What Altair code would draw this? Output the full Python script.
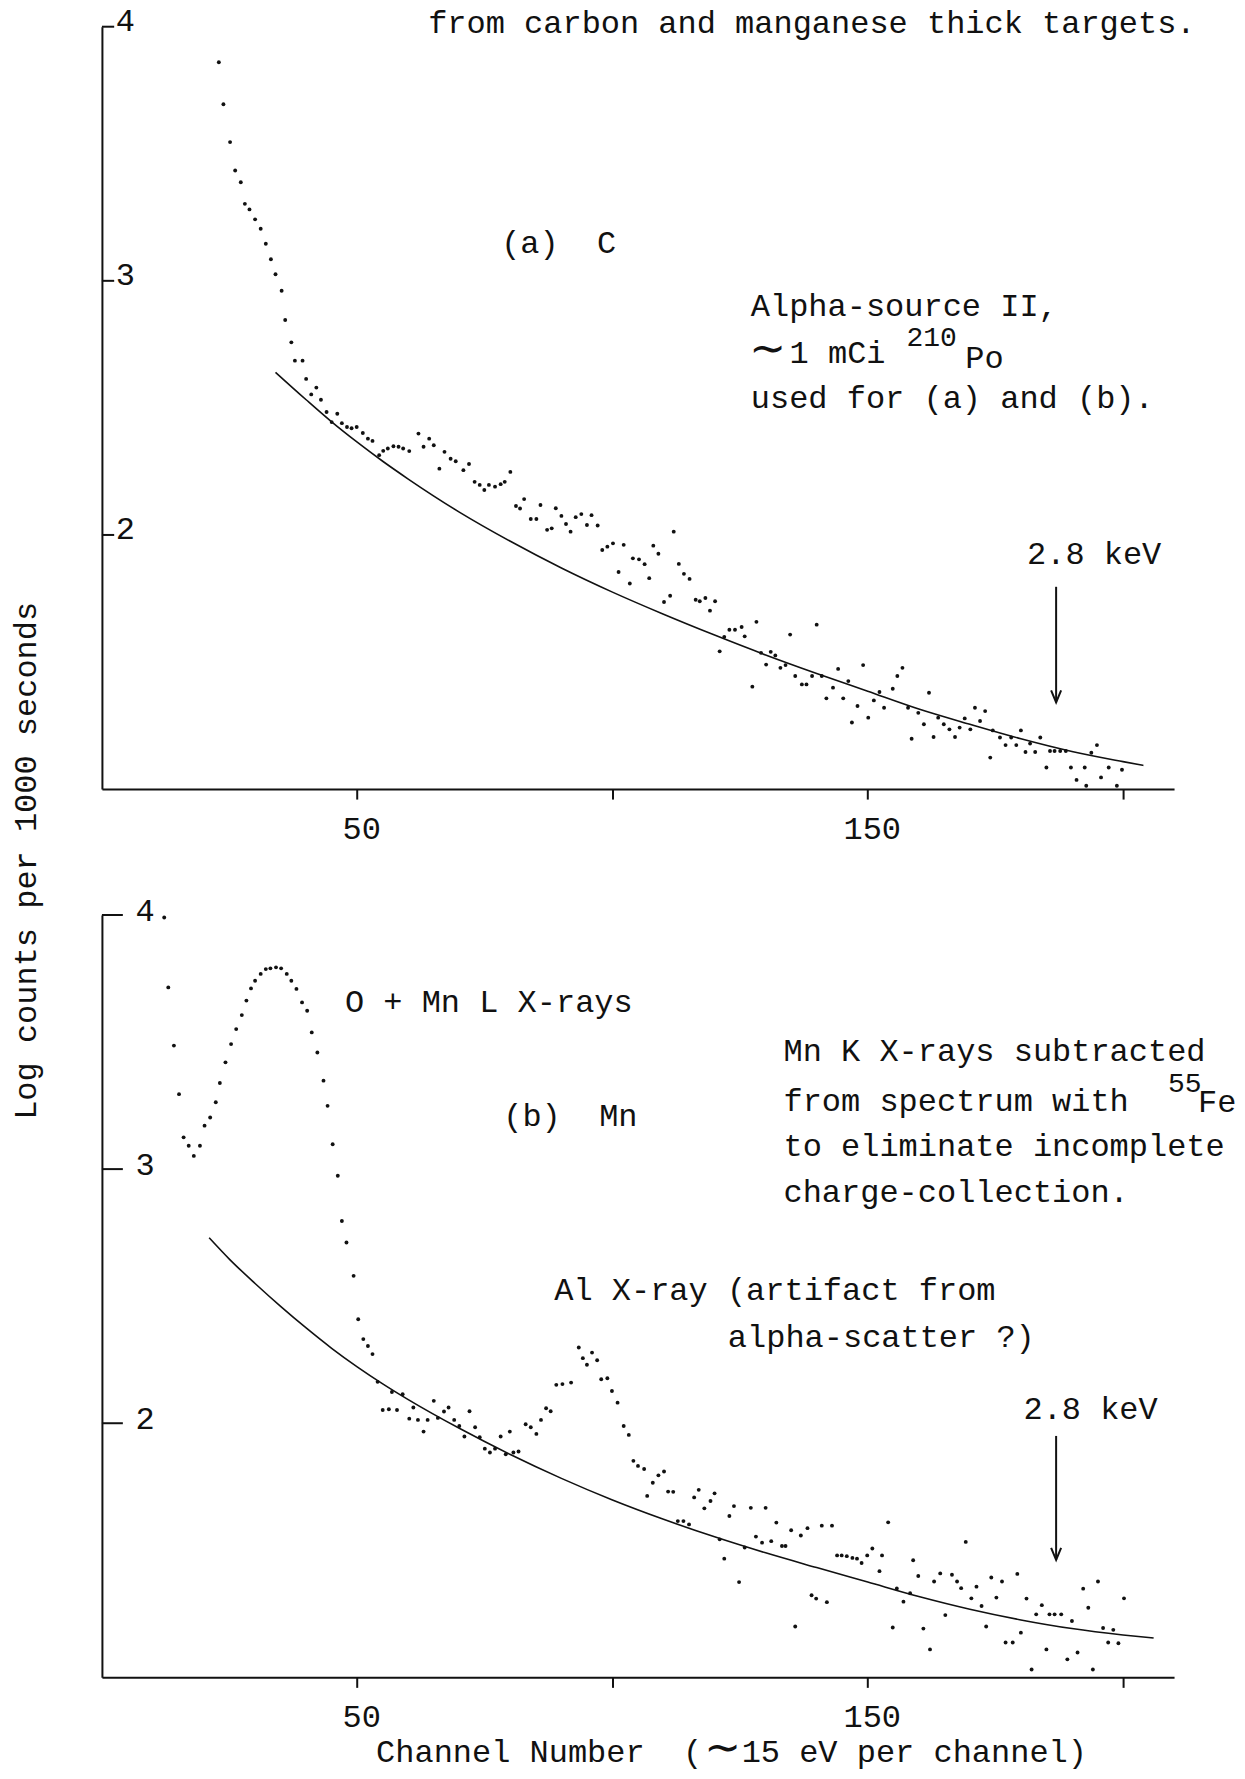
import altair as alt
import pandas as pd

FONT = "Liberation Mono"
FS = 32
INK = "#111111"

# ---------------- panel (a): carbon ----------------
TOP_CH = [22.9, 23.8, 25.1, 26.1, 27.2, 28.0, 28.9, 30.0, 31.1, 32.1, 33.1, 34.0, 35.2, 35.9, 37.1, 37.8,
          39.3, 40.0, 41.0, 42.0, 42.9, 44.0, 45.0, 46.1, 47.0, 48.0, 48.9, 49.9, 51.1, 52.1, 53.0, 54.3,
          55.1, 56.0, 57.1, 58.1, 59.0, 60.2, 62.0, 63.0, 64.1, 65.0, 66.1, 67.1, 68.3, 69.3, 70.8, 71.9,
          73.0, 74.0, 74.9, 75.8, 77.0, 78.1, 78.9, 80.0, 81.1, 81.9, 82.7, 84.0, 85.1, 85.9, 87.2, 88.1,
          88.9, 90.0, 90.9, 91.8, 92.8, 93.9, 95.0, 95.9, 97.1, 98.0, 99.0, 100.1, 101.2, 102.2, 103.4, 104.0,
          105.2, 106.3, 107.2, 108.0, 109.0, 110.1, 111.3, 112.0, 113.0, 114.0, 115.1, 116.3, 117.1, 118.2, 119.1, 120.1,
          121.0, 121.9, 122.9, 124.0, 125.3, 125.9, 127.4, 128.2, 129.1, 130.1, 131.0, 131.9, 132.9, 133.9, 134.8, 135.8,
          137.1, 138.0, 139.1, 140.0, 141.0, 141.9, 143.2, 144.2, 145.2, 146.2, 146.9, 148.0, 149.1, 150.1, 151.2, 152.3,
          153.2, 154.9, 155.8, 156.8, 157.9, 158.6, 159.9, 161.0, 162.0, 162.9, 163.8, 164.9, 166.0, 167.1, 168.0, 169.0,
          170.1, 171.0, 172.0, 173.0, 174.0, 174.5, 175.9, 177.0, 178.1, 179.1, 180.0, 180.9, 181.8, 182.8, 183.8, 185.0,
          185.7, 186.6, 187.7, 188.8, 189.8, 190.9, 192.5, 192.8, 193.8, 194.9, 195.7, 197.2, 198.8, 199.8]
TOP_VAL = [3.86, 3.695, 3.546, 3.434, 3.388, 3.303, 3.281, 3.242, 3.205, 3.146, 3.085, 3.026, 2.961, 2.846, 2.758, 2.686,
           2.686, 2.614, 2.553, 2.58, 2.532, 2.484, 2.444, 2.477, 2.44, 2.425, 2.42, 2.425, 2.401, 2.379, 2.37, 2.314,
           2.331, 2.34, 2.349, 2.347, 2.34, 2.33, 2.399, 2.347, 2.379, 2.353, 2.261, 2.327, 2.30, 2.29, 2.255, 2.279,
           2.209, 2.197, 2.177, 2.197, 2.19, 2.2, 2.209, 2.248, 2.114, 2.104, 2.141, 2.063, 2.063, 2.118, 2.02, 2.026,
           2.105, 2.075, 2.043, 2.013, 2.07, 2.082, 2.039, 2.078, 2.037, 1.941, 1.954, 1.967, 1.854, 1.961, 1.809, 1.908,
           1.904, 1.885, 1.83, 1.958, 1.926, 1.736, 1.761, 2.013, 1.886, 1.847, 1.827, 1.745, 1.739, 1.752, 1.702, 1.739,
           1.542, 1.599, 1.627, 1.627, 1.638, 1.601, 1.403, 1.658, 1.536, 1.49, 1.54, 1.526, 1.477, 1.488, 1.608, 1.445,
           1.412, 1.412, 1.445, 1.647, 1.445, 1.357, 1.399, 1.473, 1.357, 1.425, 1.262, 1.327, 1.488, 1.281, 1.349, 1.382,
           1.32, 1.395, 1.445, 1.477, 1.32, 1.198, 1.3, 1.255, 1.379, 1.205, 1.281, 1.255, 1.235, 1.205, 1.242, 1.278,
           1.235, 1.32, 1.268, 1.307, 1.124, 1.231, 1.203, 1.173, 1.203, 1.173, 1.231, 1.146, 1.179, 1.146, 1.203, 1.085,
           1.15, 1.15, 1.15, 1.15, 1.085, 1.036, 1.085, 1.013, 1.143, 1.173, 1.046, 1.085, 1.013, 1.076]
TOP_FIT_CH = [34, 40, 45, 50, 55, 60, 70, 80, 90, 100, 110, 120, 130, 140, 150, 160, 170, 180, 190, 200, 204]
TOP_FIT_VAL = [2.64, 2.532, 2.445, 2.365, 2.29, 2.22, 2.09, 1.975, 1.87, 1.775, 1.688, 1.606, 1.528, 1.455,
               1.385, 1.315, 1.255, 1.198, 1.148, 1.108, 1.093]

# ---------------- panel (b): manganese ----------------
BOT_CH = [12.2, 13.0, 14.1, 15.1, 16.0, 17.0, 18.0, 19.2, 20.1, 21.2, 22.3, 23.1, 24.2, 25.3, 26.3, 27.4,
          28.3, 29.2, 30.0, 31.1, 32.1, 33.0, 34.1, 35.1, 36.2, 37.1, 38.1, 39.2, 40.2, 41.1, 42.2, 43.4,
          44.2, 45.2, 46.2, 47.0, 47.9, 49.3, 50.2, 51.2, 52.1, 53.0, 54.0, 55.0, 56.2, 56.8, 57.8, 58.9,
          60.2, 61.0, 61.9, 63.0, 63.8, 65.0, 65.8, 67.0, 67.9, 69.0, 70.0, 71.0, 72.0, 73.1, 74.0, 75.0,
          76.0, 77.0, 78.1, 79.1, 79.9, 80.6, 81.6, 83.0, 84.0, 85.1, 86.0, 87.0, 87.9, 89.0, 90.2, 91.9,
          93.4, 94.2, 95.0, 96.0, 97.0, 97.8, 99.0, 99.9, 101.0, 102.2, 103.2, 104.1, 105.0, 106.2, 106.8, 107.9,
          109.0, 110.1, 110.9, 111.9, 112.8, 113.9, 115.0, 116.0, 116.9, 118.0, 119.2, 120.0, 121.0, 121.9, 122.9, 123.8,
          124.8, 125.9, 127.1, 128.1, 129.3, 130.0, 131.1, 132.1, 133.2, 133.9, 135.0, 135.8, 136.9, 138.2, 139.0, 139.9,
          141.0, 142.0, 143.0, 144.0, 144.9, 145.9, 147.0, 147.9, 148.8, 149.9, 150.9, 152.3, 152.8, 154.0, 154.9, 155.7,
          157.0, 158.3, 158.9, 159.9, 160.9, 162.2, 163.0, 164.2, 165.2, 166.5, 167.5, 168.3, 169.2, 170.3, 171.3, 172.3,
          173.2, 174.2, 175.2, 176.3, 177.0, 178.4, 179.3, 180.0, 181.1, 182.1, 183.0, 184.1, 185.0, 185.6, 186.6, 187.9,
          189.1, 190.0, 191.1, 192.2, 193.2, 194.1, 195.1, 196.1, 197.1, 198.1, 199.1, 200.2]
BOT_VAL = [3.99, 3.715, 3.486, 3.295, 3.125, 3.092, 3.052, 3.092, 3.171, 3.203, 3.263, 3.339, 3.42, 3.492, 3.551, 3.606,
           3.663, 3.711, 3.741, 3.768, 3.787, 3.79, 3.794, 3.79, 3.768, 3.741, 3.709, 3.656, 3.623, 3.538, 3.459, 3.348,
           3.249, 3.098, 2.974, 2.796, 2.711, 2.58, 2.409, 2.331, 2.304, 2.272, 2.163, 2.052, 2.055, 2.123, 2.052, 2.114,
           2.018, 2.062, 2.013, 1.967, 2.013, 2.088, 2.021, 2.046, 2.062, 2.013, 1.989, 1.948, 2.047, 1.984, 1.945, 1.90,
           1.885, 1.90, 1.948, 1.878, 1.967, 1.885, 1.889, 1.996, 1.984, 1.958, 2.013, 2.059, 2.047, 2.151, 2.154, 2.16,
           2.298, 2.256, 2.23, 2.278, 2.248, 2.173, 2.177, 2.127, 2.081, 1.989, 1.954, 1.852, 1.832, 1.82, 1.714, 1.766,
           1.795, 1.81, 1.731, 1.73, 1.615, 1.615, 1.602, 1.708, 1.738, 1.665, 1.694, 1.724, 1.543, 1.467, 1.635, 1.674,
           1.375, 1.511, 1.667, 1.554, 1.53, 1.667, 1.536, 1.609, 1.517, 1.517, 1.579, 1.20, 1.558, 1.587, 1.323, 1.31,
           1.597, 1.296, 1.597, 1.48, 1.48, 1.477, 1.47, 1.467, 1.45, 1.48, 1.507, 1.418, 1.48, 1.61, 1.196, 1.35,
           1.298, 1.331, 1.461, 1.399, 1.192, 1.11, 1.377, 1.409, 1.245, 1.404, 1.377, 1.351, 1.533, 1.311, 1.357, 1.281,
           1.20, 1.393, 1.314, 1.377, 1.137, 1.137, 1.407, 1.176, 1.31, 1.031, 1.248, 1.284, 1.11, 1.248, 1.248, 1.248,
           1.071, 1.222, 1.098, 1.349, 1.274, 1.031, 1.377, 1.194, 1.137, 1.187, 1.134, 1.311]
BOT_FIT_CH = [21, 25, 30, 35, 40, 45, 50, 55, 60, 70, 80, 90, 100, 110, 120, 130, 140, 150, 160, 170, 180, 190, 200, 206]
BOT_FIT_VAL = [2.73, 2.645, 2.55, 2.46, 2.375, 2.295, 2.222, 2.155, 2.093, 1.98, 1.877, 1.783, 1.698, 1.622,
               1.553, 1.49, 1.432, 1.375, 1.318, 1.268, 1.226, 1.192, 1.167, 1.155]

# ---------------- text ----------------
Y_TICKS = [4, 3, 2]
Y_TICK_LABELS = ["4", "3", "2"]
X_TICKS = [50, 100, 150, 200]
Y_TITLE = "Log counts per 1000 seconds"

TOP_NOTES = ["from carbon and manganese thick targets.", "(a)\u00a0\u00a0C", "Alpha-source II,",
             "1 mCi", "Po", "used for (a) and (b).", "2.8 keV"]
TOP_NOTE_CH = [63.9, 78.2, 127.1, 134.7, 169.1, 127.1, 181.2]
TOP_NOTE_VAL = [3.974, 3.11, 2.863, 2.676, 2.656, 2.498, 1.886]
TOP_SUP = ["210"]
TOP_SUP_CH = [157.6]
TOP_SUP_VAL = [2.745]
TOP_TILDE_CH = [130.4]
TOP_TILDE_VAL = [2.676]

BOT_NOTES = ["O + Mn L X-rays", "(b)\u00a0\u00a0Mn", "Mn K X-rays subtracted", "from spectrum with", "Fe",
             "to eliminate incomplete", "charge-collection.", "Al X-ray (artifact from",
             "alpha-scatter ?)", "2.8 keV", "Channel Number\u00a0\u00a0(", "15 eV per channel)"]
BOT_NOTE_CH = [47.6, 78.6, 133.5, 133.5, 214.7, 133.5, 133.5, 88.6, 122.6, 180.5, 53.7, 125.3]
BOT_NOTE_VAL = [3.617, 3.17, 3.426, 3.23, 3.226, 3.052, 2.87, 2.484, 2.30, 2.016, 0.665, 0.665]
BOT_SUP = ["55"]
BOT_SUP_CH = [208.8]
BOT_SUP_VAL = [3.303]
BOT_TILDE_CH = [121.6]
BOT_TILDE_VAL = [0.665]

ARROW_CH = 186.9
TOP_ARROW = [1.796, 1.341]
BOT_ARROW = [1.95, 1.462]

XS = alt.Scale(domain=[0, 210], nice=False, zero=False)
YS = alt.Scale(domain=[1, 4], nice=False, zero=False)

X_AXIS = alt.Axis(values=X_TICKS,
                  labelExpr="(datum.value == 50 || datum.value == 150) ? datum.label : ''",
                  title=None, grid=False, domainColor=INK, domainWidth=2, tickColor=INK,
                  tickWidth=2, tickSize=10, labelFont=FONT, labelFontSize=FS, labelColor=INK,
                  labelPadding=14, labelOffset=4, labelFlush=False, labelOverlap=False)
Y_AXIS = alt.Axis(title=None, grid=False, ticks=False, labels=False, domainColor=INK, domainWidth=2)


def enc(**extra):
    d = dict(x=alt.X("ch:Q", scale=XS, axis=X_AXIS), y=alt.Y("val:Q", scale=YS, axis=Y_AXIS))
    d.update(extra)
    return d


def panel(ch, val, fit_ch, fit_val, notes, note_ch, note_val, sup, sup_ch, sup_val,
          tilde_ch, tilde_val, arrow, tick_len, label_ch, label_dy, extra=None):
    pts = pd.DataFrame({"ch": ch, "val": val})
    fit = pd.DataFrame({"ch": fit_ch, "val": fit_val})
    nt = pd.DataFrame({"ch": note_ch, "val": note_val, "label": notes})
    sp = pd.DataFrame({"ch": sup_ch, "val": sup_val, "label": sup})
    td = pd.DataFrame({"ch": tilde_ch, "val": tilde_val, "label": ["\u223c"] * len(tilde_ch)})
    tk = pd.DataFrame({"ch": [0] * 3, "ch2": [tick_len] * 3, "val": Y_TICKS})
    tl = pd.DataFrame({"ch": [label_ch] * 3, "val": Y_TICKS, "label": Y_TICK_LABELS})
    ar = pd.DataFrame({"ch": [ARROW_CH], "val": [arrow[0]], "val2": [arrow[1]]})
    head = pd.DataFrame({"ch": [ARROW_CH], "val": [arrow[1]]})

    layers = [
        alt.Chart(pts).mark_circle(size=15, color=INK, opacity=1).encode(**enc()),
        alt.Chart(fit).mark_line(color=INK, strokeWidth=1.6, interpolate="monotone").encode(**enc()),
        alt.Chart(tk).mark_rule(color=INK, strokeWidth=2).encode(**enc(x2="ch2:Q")),
        alt.Chart(tl).mark_text(font=FONT, fontSize=FS, align="left", baseline="alphabetic",
                                color=INK, dy=label_dy).encode(**enc(text="label:N")),
        alt.Chart(nt).mark_text(font=FONT, fontSize=FS, align="left", baseline="alphabetic",
                                color=INK).encode(**enc(text="label:N")),
        alt.Chart(sp).mark_text(font=FONT, fontSize=28, align="left", baseline="alphabetic",
                                color=INK).encode(**enc(text="label:N")),
        alt.Chart(td).mark_text(font="DejaVu Sans", fontSize=44, align="center", baseline="alphabetic",
                                color=INK).encode(**enc(text="label:N")),
        alt.Chart(ar).mark_rule(color=INK, strokeWidth=2).encode(**enc(y2="val2:Q")),
        alt.Chart(head).mark_point(shape="M-1,-2.4L0,0L1,-2.4", filled=False, size=100,
                                   strokeWidth=2, color=INK, opacity=1).encode(**enc()),
    ]
    if extra is not None:
        layers.append(extra)
    return alt.layer(*layers).properties(width=1073, height=763)


ytitle = pd.DataFrame({"ch": [-12.9], "val": [4.213], "label": [Y_TITLE]})
ytitle_layer = alt.Chart(ytitle).mark_text(font=FONT, fontSize=FS, align="center", baseline="alphabetic",
                                           angle=270, color=INK).encode(**enc(text="label:N"))

top = panel(TOP_CH, TOP_VAL, TOP_FIT_CH, TOP_FIT_VAL, TOP_NOTES, TOP_NOTE_CH, TOP_NOTE_VAL,
            TOP_SUP, TOP_SUP_CH, TOP_SUP_VAL, TOP_TILDE_CH, TOP_TILDE_VAL, TOP_ARROW,
            2.4, 2.7, 4)
bot = panel(BOT_CH, BOT_VAL, BOT_FIT_CH, BOT_FIT_VAL, BOT_NOTES, BOT_NOTE_CH, BOT_NOTE_VAL,
            BOT_SUP, BOT_SUP_CH, BOT_SUP_VAL, BOT_TILDE_CH, BOT_TILDE_VAL, BOT_ARROW,
            4.1, 6.6, 6, extra=ytitle_layer)

chart = alt.vconcat(top, bot, spacing=126, bounds="flush").properties(
    padding={"left": 2, "top": -4, "right": 0, "bottom": 0}
).configure(background="white", view=alt.ViewConfig(stroke=None))

chart.save("out.html", embed_options={"renderer": "svg", "actions": False})
